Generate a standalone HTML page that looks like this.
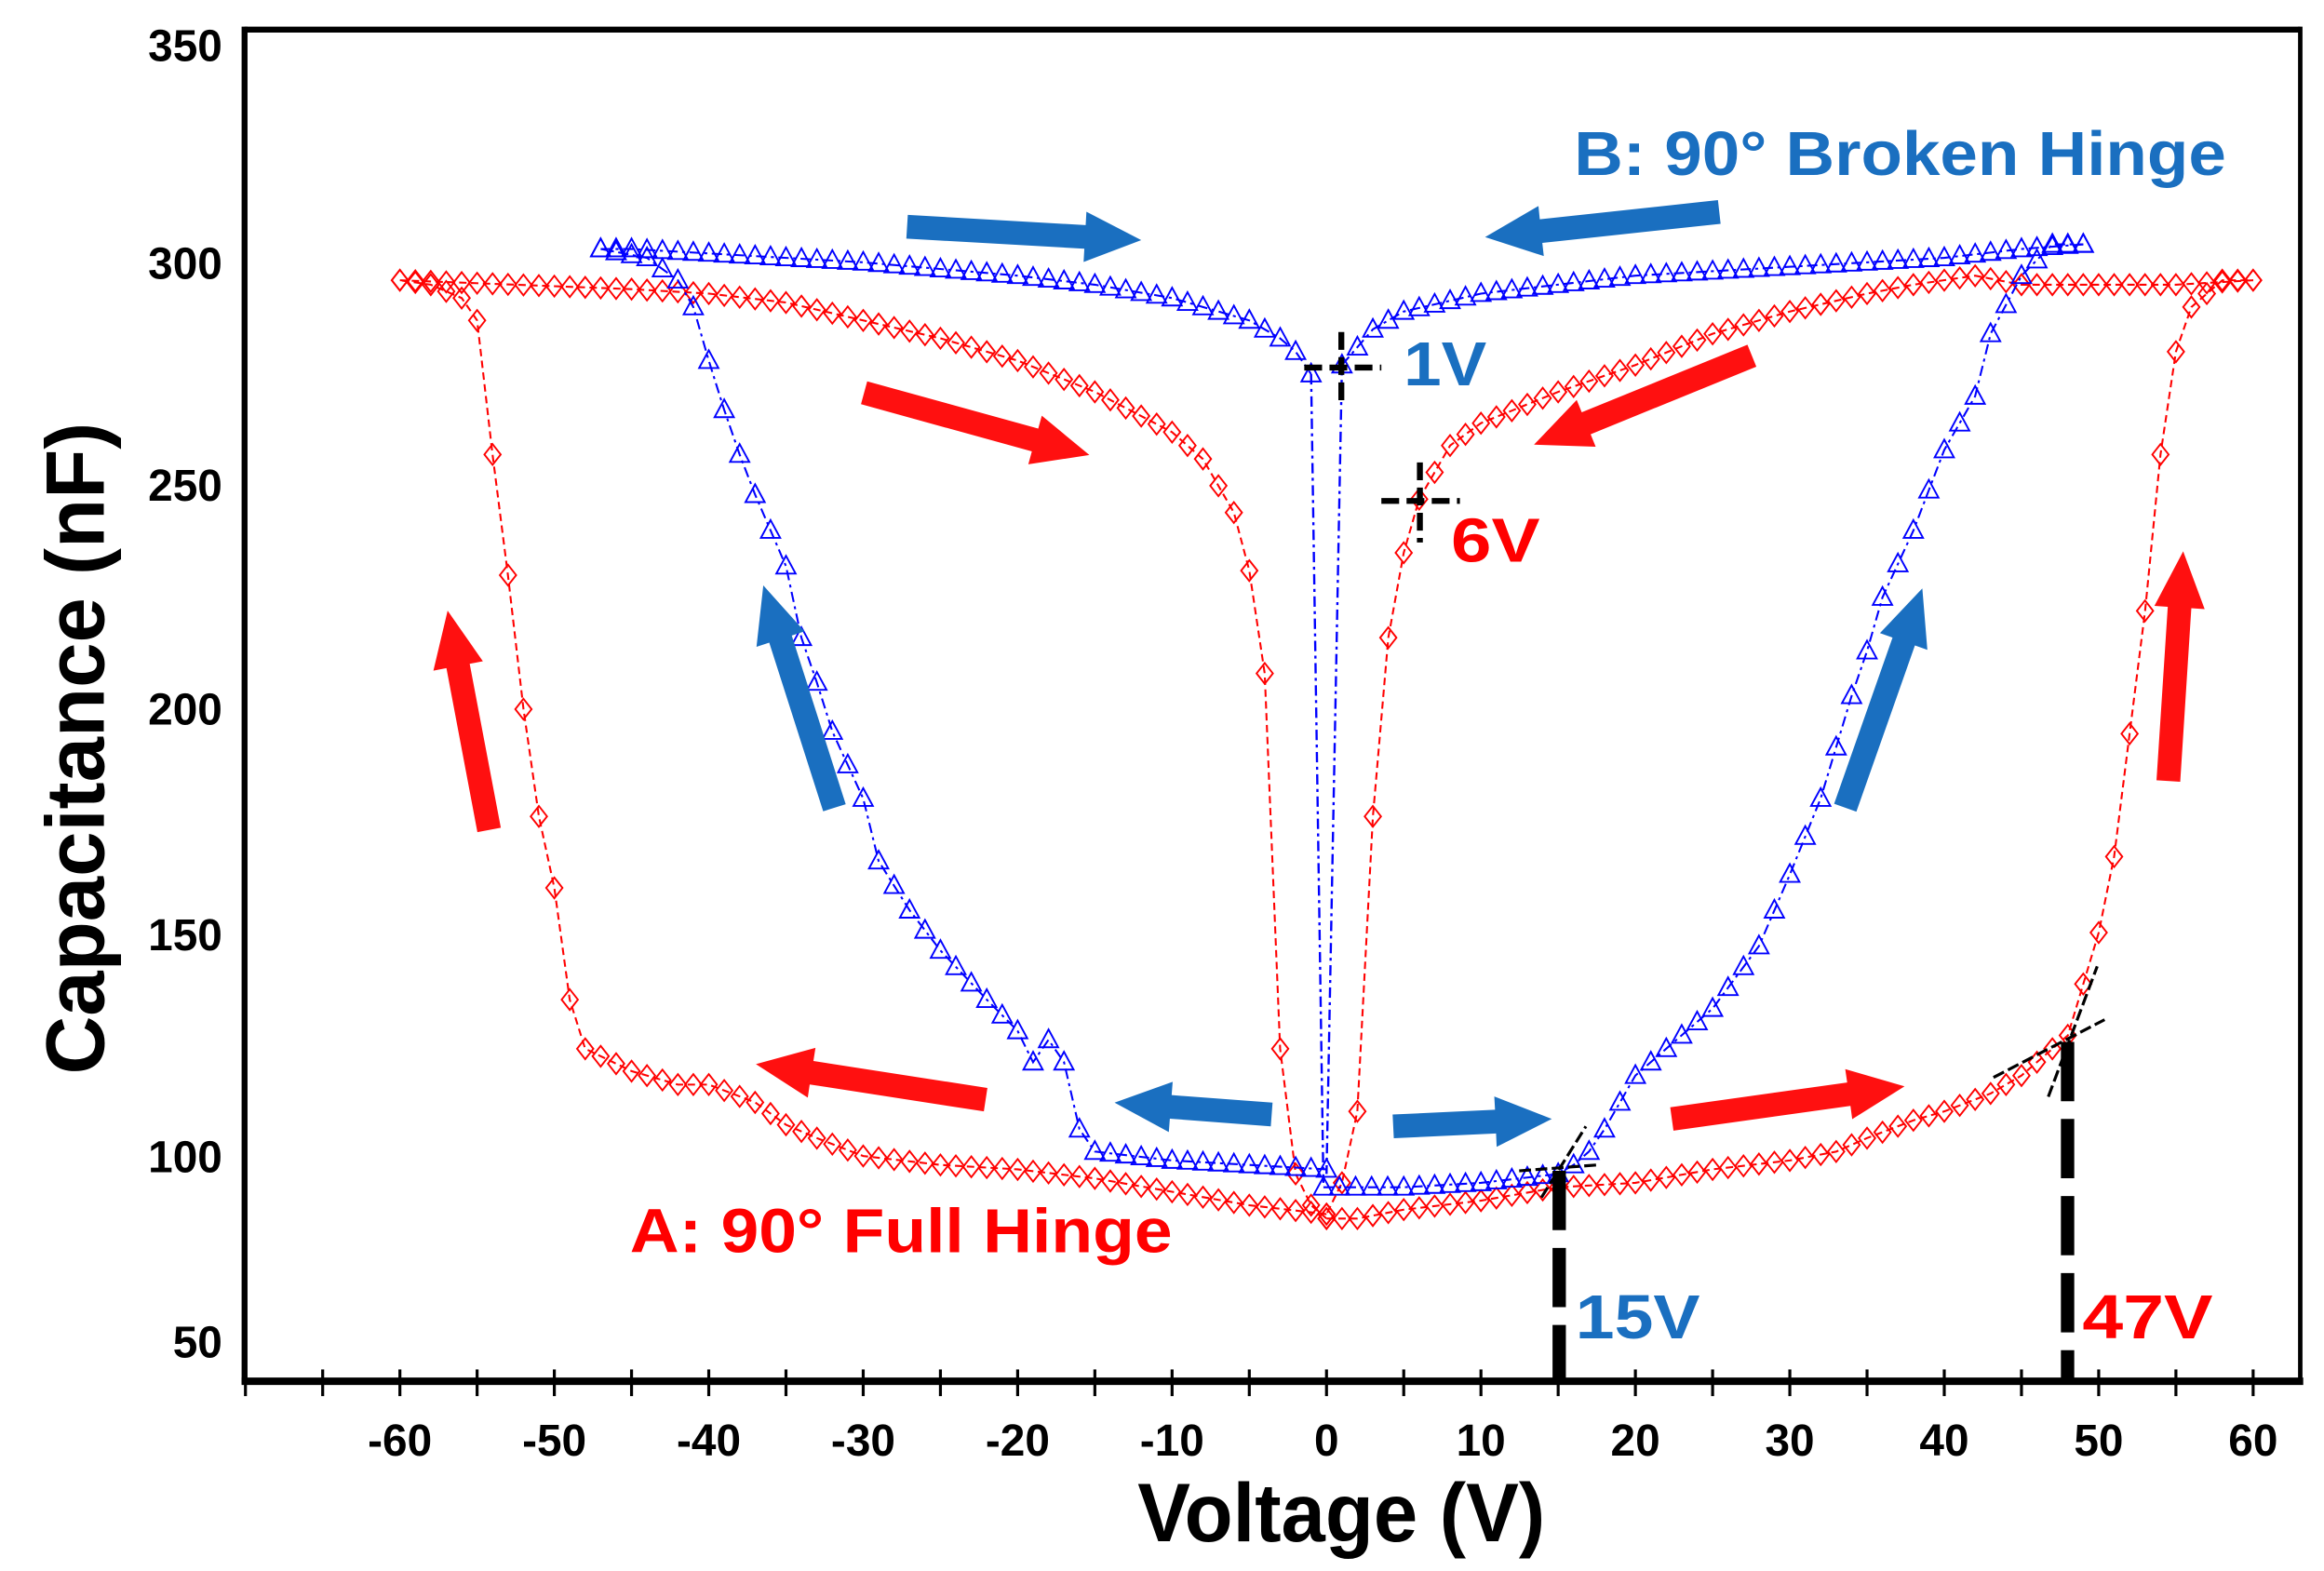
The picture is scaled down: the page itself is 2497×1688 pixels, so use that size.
<!DOCTYPE html>
<html><head><meta charset="utf-8"><style>
html,body{margin:0;padding:0;background:#fff;}
svg{display:block;}
text{font-family:"Liberation Sans Narrow","Liberation Sans",sans-serif;font-weight:bold;}
</style></head><body>
<svg id="s" xmlns="http://www.w3.org/2000/svg" width="2497" height="1688" viewBox="0 0 1568 1060">
<rect width="1568" height="1060" fill="#fff"/>
<g id="data"></g>
<g id="ax"></g>
<g font-size="30" text-anchor="end" fill="#000">
<text x="150" y="41">350</text><text x="150" y="188">300</text><text x="150" y="338">250</text>
<text x="150" y="489">200</text><text x="150" y="641">150</text><text x="150" y="791">100</text>
<text x="150" y="916">50</text>
</g>
<text x="905" y="1040" font-size="56" text-anchor="middle" textLength="275" lengthAdjust="spacingAndGlyphs" fill="#000" font-family="Liberation Sans">Voltage (V)</text>
<text transform="translate(70,505) rotate(-90)" font-size="56" text-anchor="middle" textLength="440" lengthAdjust="spacingAndGlyphs" fill="#000" font-family="Liberation Sans">Capacitance (nF)</text>
<text x="1062" y="118" font-size="42" fill="#1a6fc0" textLength="440" lengthAdjust="spacingAndGlyphs">B: 90° Broken Hinge</text>
<text x="425" y="845" font-size="42" fill="#f00" textLength="366" lengthAdjust="spacingAndGlyphs">A: 90° Full Hinge</text>
<text x="947" y="260" font-size="42" fill="#1a6fc0" textLength="56" lengthAdjust="spacingAndGlyphs">1V</text>
<text x="979" y="379" font-size="42" fill="#f00" textLength="60" lengthAdjust="spacingAndGlyphs">6V</text>
<text x="1063" y="903" font-size="42" fill="#1a6fc0" textLength="84" lengthAdjust="spacingAndGlyphs">15V</text>
<text x="1405" y="903" font-size="42" fill="#f00" textLength="88" lengthAdjust="spacingAndGlyphs">47V</text>
</svg>
<script>
var NS="http://www.w3.org/2000/svg";
function X(v){return 895+10.42*v;}
function Y(c){return 177+(300-c)*3.015;}
function el(p,t,a){var e=document.createElementNS(NS,t);for(var k in a)e.setAttribute(k,a[k]);p.appendChild(e);return e;}
var D=document.getElementById('data'),A=document.getElementById('ax');
function pts(arr){return arr.map(function(p){return X(p[0]).toFixed(1)+','+Y(p[1]).toFixed(1);}).join(' ');}
function samples(arr,skipV){var out=[];for(var i=0;i<arr.length-1;i++){var a=arr[i],b=arr[i+1];var dx=X(b[0])-X(a[0]),dy=Y(b[1])-Y(a[1]);var n=Math.max(1,Math.round(Math.abs(b[0]-a[0])));for(var j=0;j<n;j++){var t=j/n;out.push([X(a[0])+dx*t,Y(a[1])+dy*t]);}}var l=arr[arr.length-1];out.push([X(l[0]),Y(l[1])]);return out;}
var R=[
[[-60,296],[-45,294],[-40,293],[-35,291],[-30,287],[-25,283],[-20,278],[-15,271],[-10,262],[-8,256],[-6,244],[-5,231],[-4,208],[-3,124],[-2,96],[-1,89],[0,86]],
[[0,86],[2,86],[5,88],[10,90],[15,93],[20,94],[25,97],[30,99],[33,101],[35,104],[38,108],[40,110],[43,114],[45,118],[48,127],[50,150],[51,167],[53,222],[54,257],[55,280],[56,290],[58,296],[60,296]],
[[60,296],[55,295],[50,295],[45,295],[42,297],[38,295],[35,293],[30,289],[25,284],[20,277],[15,271],[10,264],[8,259],[6,247],[5,235],[4,216],[3,176],[2,110],[1,94],[0,87]],
[[0,87],[-5,89],[-10,92],[-15,95],[-20,97],[-25,98],[-30,100],[-33,104],[-35,107],[-37,112],[-40,116],[-42,116],[-45,119],[-48,124],[-49,135],[-50,160],[-51,176],[-52,200],[-53,230],[-54,257],[-55,287],[-56,292],[-58,295],[-60,296]]];
var B=[
[[-47,303],[-45,303],[-40,302],[-30,300],[-20,297],[-15,295],[-10,292],[-5,287],[-3,283],[-2,280],[-1,275]],
[[-0.2,93],[5,93],[10,94],[15,96],[16,98],[17,101],[18,106],[20,118],[22,124],[25,133],[28,147],[30,163],[32,180],[34,203],[35,213],[36,225],[38,240],[40,258],[42,270],[43,284],[45,297],[47,304],[49,304]],
[[49,304],[45,303],[40,301],[30,299],[20,297],[10,293],[5,289],[3,285],[2,281],[1,277]],
[[0,97],[-5,98],[-10,99],[-15,101],[-16,106],[-17,121],[-18,126],[-19,121],[-20,128],[-22,135],[-25,146],[-27,155],[-29,166],[-30,180],[-32,195],[-33,206],[-34,216],[-35,232],[-36,240],[-37,248],[-38,257],[-39,267],[-40,278],[-41,290],[-42,296],[-44,301],[-47,303]]];
var BV=[[[-1,275],[-0.2,94]],[[1,277],[0,96]]];
R.forEach(function(a){el(D,'polyline',{points:pts(a),fill:'none',stroke:'#f00','stroke-width':1.3,'stroke-dasharray':'5,3'});
 samples(a).forEach(function(p){el(D,'polygon',{points:p[0]+','+(p[1]-7)+' '+(p[0]+5.5)+','+p[1]+' '+p[0]+','+(p[1]+7)+' '+(p[0]-5.5)+','+p[1],fill:'none',stroke:'#f00','stroke-width':1.2});});});
BV.forEach(function(a){el(D,'polyline',{points:pts(a),fill:'none',stroke:'#00f','stroke-width':1.5,'stroke-dasharray':'7,3,2,3'});});
B.forEach(function(a){el(D,'polyline',{points:pts(a),fill:'none',stroke:'#00f','stroke-width':1.3,'stroke-dasharray':'7,3,2,3'});
 samples(a).forEach(function(p){el(D,'polygon',{points:p[0]+','+(p[1]-7)+' '+(p[0]+6.5)+','+(p[1]+5)+' '+(p[0]-6.5)+','+(p[1]+5),fill:'none',stroke:'#00f','stroke-width':1.2});});});
function arrow(x1,y1,x2,y2,c){var dx=x2-x1,dy=y2-y1,L=Math.sqrt(dx*dx+dy*dy),ux=dx/L,uy=dy/L,nx=-uy,ny=ux;var w=8,hw=17,hl=38;var bx=x2-ux*hl,by=y2-uy*hl;
var p=[[x1+nx*w,y1+ny*w],[bx+nx*w,by+ny*w],[bx+nx*hw,by+ny*hw],[x2,y2],[bx-nx*hw,by-ny*hw],[bx-nx*w,by-ny*w],[x1-nx*w,y1-ny*w]];
el(D,'polygon',{points:p.map(function(q){return q[0].toFixed(1)+','+q[1].toFixed(1);}).join(' '),fill:c});}
var bl='#1a6fc0',rd='#ff1010';
arrow(612,153,770,162,bl);arrow(1160,143,1002,160,bl);arrow(563,545,515,395,bl);arrow(1245,545,1297,397,bl);arrow(858,752,752,744,bl);arrow(940,760,1047,755,bl);
arrow(583,265,735,307,rd);arrow(1182,240,1035,300,rd);arrow(330,560,302,412,rd);arrow(1463,527,1473,372,rd);arrow(665,742,510,718,rd);arrow(1128,755,1285,733,rd);
var k='#000';
el(A,'line',{x1:880,y1:248,x2:932,y2:248,stroke:k,'stroke-width':4,'stroke-dasharray':'12,5'});
el(A,'line',{x1:905,y1:224,x2:905,y2:273,stroke:k,'stroke-width':4,'stroke-dasharray':'12,5'});
el(A,'line',{x1:932,y1:338,x2:985,y2:338,stroke:k,'stroke-width':4,'stroke-dasharray':'12,5'});
el(A,'line',{x1:958,y1:312,x2:958,y2:366,stroke:k,'stroke-width':4,'stroke-dasharray':'12,5'});
el(A,'line',{x1:1052,y1:790,x2:1052,y2:932,stroke:k,'stroke-width':9,'stroke-dasharray':'40,12'});
el(A,'line',{x1:1025,y1:790,x2:1078,y2:786,stroke:k,'stroke-width':2,'stroke-dasharray':'8,3'});
el(A,'line',{x1:1040,y1:808,x2:1070,y2:760,stroke:k,'stroke-width':2,'stroke-dasharray':'8,3'});
el(A,'line',{x1:1395,y1:703,x2:1395,y2:932,stroke:k,'stroke-width':9,'stroke-dasharray':'40,12'});
el(A,'line',{x1:1345,y1:727,x2:1420,y2:688,stroke:k,'stroke-width':2,'stroke-dasharray':'8,3'});
el(A,'line',{x1:1382,y1:740,x2:1415,y2:652,stroke:k,'stroke-width':2,'stroke-dasharray':'8,3'});
el(A,'line',{x1:165,y1:20,x2:1552,y2:20,stroke:k,'stroke-width':4});
el(A,'line',{x1:1552,y1:18,x2:1552,y2:934,stroke:k,'stroke-width':3});
el(A,'line',{x1:165,y1:18,x2:165,y2:934,stroke:k,'stroke-width':4});
el(A,'line',{x1:163,y1:932,x2:1554,y2:932,stroke:k,'stroke-width':5});
for(var v=-70;v<=60;v+=5){var x=X(v);el(A,'line',{x1:x,y1:924,x2:x,y2:942,stroke:k,'stroke-width':2});}
for(var v=-60;v<=60;v+=10){var t=el(A,'text',{x:X(v),y:982,'font-size':30,'text-anchor':'middle',fill:k});t.textContent=String(v);}
</script>
</body></html>
